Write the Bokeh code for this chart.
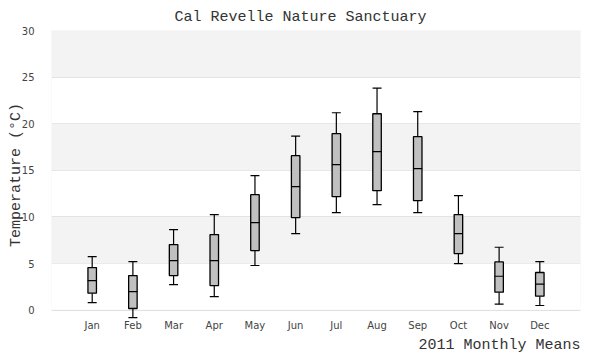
from bokeh.plotting import figure
from bokeh.models import Range1d, FixedTicker, ColumnDataSource, BoxAnnotation, Title
from bokeh.embed import file_html
from bokeh.resources import INLINE

months = ["Jan", "Feb", "Mar", "Apr", "May", "Jun", "Jul", "Aug", "Sep", "Oct", "Nov", "Dec"]
lower  = [0.82, -0.79, 2.75, 1.46, 4.79, 8.21, 10.46, 11.32, 10.46, 5.00, 0.64, 0.50]
q1     = [1.82, 0.18, 3.71, 2.64, 6.39, 9.93, 12.18, 12.82, 11.75, 6.07, 1.93, 1.50]
median = [3.18, 2.00, 5.32, 5.32, 9.39, 13.25, 15.61, 17.00, 15.18, 8.21, 3.64, 2.79]
q3     = [4.57, 3.71, 7.04, 8.11, 12.39, 16.57, 18.93, 21.07, 18.61, 10.25, 5.18, 4.04]
upper  = [5.75, 5.21, 8.64, 10.25, 14.43, 18.68, 21.18, 23.82, 21.29, 12.29, 6.75, 5.21]
y_ticks = [0, 5, 10, 15, 20, 25, 30]

pos = list(range(1, len(months) + 1))
half = 0.11
src = ColumnDataSource(dict(
    x=pos, xl=[p - half for p in pos], xr=[p + half for p in pos],
    lower=lower, q1=q1, median=median, q3=q3, upper=upper,
))

MONO = "Liberation Mono"

p = figure(width=592, height=360, output_backend="svg", toolbar_location=None,
           x_range=Range1d(0, 13), y_range=Range1d(-1, 30),
           min_border_left=51, min_border_right=12, min_border_top=30, min_border_bottom=41)

p.title.text = "Cal Revelle Nature Sanctuary"
p.title.align = "left"
p.title.offset = 123
p.title.text_font = MONO
p.title.text_font_size = "15px"
p.title.text_font_style = "normal"
p.title.text_color = "#333333"

p.add_layout(Title(text="2011 Monthly Means", align="right", standoff=3, text_font=MONO,
                   text_font_size="15px", text_font_style="normal",
                   text_color="#333333"), "below")

p.outline_line_color = None
# alternating background bands between y ticks
for lo, hi in zip(y_ticks[1::2], y_ticks[2::2]):
    p.add_layout(BoxAnnotation(bottom=lo, top=hi, fill_color="#f3f3f3", fill_alpha=1.0,
                               line_color=None, level="underlay"))
p.add_layout(BoxAnnotation(bottom=y_ticks[0], top=y_ticks[-1], fill_color=None,
                           line_color="#dddddd", line_width=1, level="underlay"))

p.xgrid.grid_line_color = None
p.ygrid.grid_line_color = "#e3e3e3"

p.yaxis.ticker = FixedTicker(ticks=y_ticks)
p.xaxis.ticker = FixedTicker(ticks=pos)
p.xaxis.major_label_overrides = {pp: m for pp, m in zip(pos, months)}

for ax in (p.xaxis[0], p.yaxis[0]):
    ax.axis_line_color = None
    ax.major_tick_line_color = None
    ax.minor_tick_line_color = None
    ax.major_label_text_font = "DejaVu Sans"
    ax.major_label_text_font_size = "10px"
    ax.major_label_text_color = "#444444"
p.yaxis.major_label_standoff = 11
p.xaxis.major_label_standoff = -6

p.yaxis.axis_label = "Temperature (°C)"
p.yaxis.axis_label_text_font = MONO
p.yaxis.axis_label_text_font_size = "15px"
p.yaxis.axis_label_text_font_style = "normal"
p.yaxis.axis_label_text_color = "#333333"
p.yaxis.axis_label_standoff = -6

# whisker stems
p.segment(x0="x", y0="q3", x1="x", y1="upper", source=src, line_color="black", line_width=1.2)
p.segment(x0="x", y0="lower", x1="x", y1="q1", source=src, line_color="black", line_width=1.2)
# caps
p.segment(x0="xl", y0="upper", x1="xr", y1="upper", source=src, line_color="black", line_width=1.2)
p.segment(x0="xl", y0="lower", x1="xr", y1="lower", source=src, line_color="black", line_width=1.2)
# boxes
p.vbar(x="x", width=2 * half * 0.95, bottom="q1", top="q3", source=src,
       fill_color="#c0c0c0", line_color="black", line_width=1.3)
# medians
p.segment(x0="xl", y0="median", x1="xr", y1="median", source=src, line_color="black", line_width=1.2)

open("out.html", "w").write(file_html(p, INLINE))
